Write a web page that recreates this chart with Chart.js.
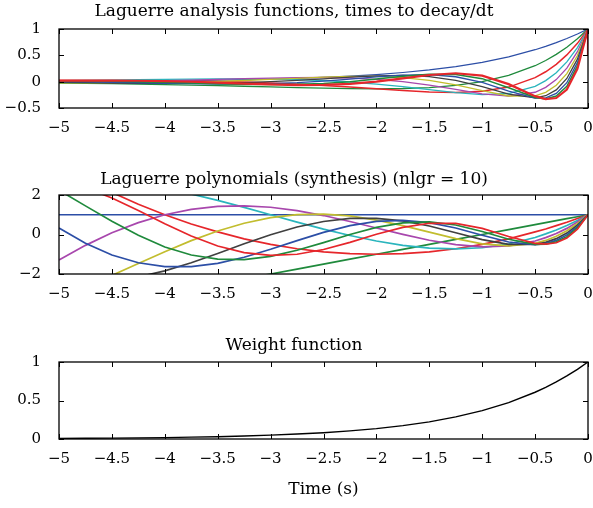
<!DOCTYPE html>
<html>
<head>
<meta charset="utf-8">
<script src="https://cdn.jsdelivr.net/npm/chart.js@4.4.0/dist/chart.umd.min.js"></script>
<style>
  body { margin: 0; background: #fff; }
  .plot { position: absolute; left: 0; width: 593px; }
</style>
</head>
<body>
<div class="plot" style="top:0px;height:148px"><canvas id="c1"></canvas></div>
<div class="plot" style="top:166px;height:148px"><canvas id="c2"></canvas></div>
<div class="plot" style="top:333px;height:171px"><canvas id="c3"></canvas></div>
<script>
// time samples (s)
var T = [-5, -4.75, -4.5, -4.25, -4, -3.75, -3.5, -3.25, -3, -2.75, -2.5, -2.25, -2, -1.75, -1.5, -1.25, -1, -0.75, -0.5, -0.4, -0.3, -0.2, -0.1, 0];

// top: analysis functions
var A0 = [0.007, 0.009, 0.011, 0.014, 0.018, 0.024, 0.030, 0.039, 0.050, 0.064, 0.082, 0.105, 0.135, 0.174, 0.223, 0.287, 0.368, 0.472, 0.607, 0.670, 0.741, 0.819, 0.905, 1];
var A1 = [-0.027, -0.033, -0.039, -0.046, -0.055, -0.065, -0.076, -0.087, -0.100, -0.112, -0.123, -0.132, -0.135, -0.130, -0.112, -0.072, 0, 0.118, 0.303, 0.402, 0.519, 0.655, 0.814, 1];
var A2 = [0.023, 0.024, 0.024, 0.022, 0.018, 0.012, 0.004, -0.008, -0.025, -0.046, -0.072, -0.102, -0.135, -0.169, -0.195, -0.206, -0.184, -0.103, 0.076, 0.188, 0.330, 0.508, 0.728, 1];
var A3 = [0.018, 0.024, 0.030, 0.036, 0.043, 0.048, 0.052, 0.053, 0.050, 0.040, 0.022, -0.006, -0.045, -0.096, -0.153, -0.210, -0.245, -0.225, -0.088, 0.020, 0.171, 0.376, 0.647, 1];
var A4 = [-0.009, -0.005, 0.001, 0.009, 0.018, 0.030, 0.043, 0.056, 0.068, 0.077, 0.079, 0.070, 0.045, 0.001, -0.064, -0.147, -0.230, -0.274, -0.201, -0.108, 0.039, 0.258, 0.569, 1];
var A5 = [-0.021, -0.023, -0.023, -0.021, -0.016, -0.007, 0.005, 0.022, 0.042, 0.064, 0.085, 0.099, 0.099, 0.078, 0.026, -0.060, -0.172, -0.272, -0.270, -0.202, -0.069, 0.153, 0.496, 1];
var A6 = [-0.014, -0.020, -0.026, -0.031, -0.034, -0.034, -0.029, -0.018, -0.001, 0.024, 0.054, 0.086, 0.111, 0.119, 0.095, 0.025, -0.095, -0.237, -0.306, -0.267, -0.156, 0.061, 0.427, 1];
var A7 = [0.002, -0.004, -0.012, -0.021, -0.030, -0.038, -0.044, -0.044, -0.037, -0.020, 0.009, 0.047, 0.090, 0.125, 0.134, 0.093, -0.015, -0.181, -0.314, -0.307, -0.223, -0.020, 0.361, 1];
var A8 = [0.015, 0.013, 0.007, -0.001, -0.011, -0.024, -0.038, -0.049, -0.055, -0.051, -0.034, 0.000, 0.049, 0.102, 0.142, 0.138, 0.057, -0.115, -0.302, -0.327, -0.274, -0.090, 0.299, 1];
var A9 = [0.018, 0.021, 0.021, 0.017, 0.010, -0.002, -0.018, -0.036, -0.053, -0.064, -0.062, -0.042, 0.001, 0.063, 0.127, 0.160, 0.114, -0.047, -0.275, -0.330, -0.310, -0.151, 0.241, 1];
var A9_END = [0.5]; // last sample drops back at t = 0

// middle: Laguerre polynomials
var L0 = [1, 1, 1, 1, 1, 1, 1, 1, 1, 1, 1, 1, 1, 1, 1, 1, 1, 1, 1, 1, 1, 1, 1, 1];
var L1 = [-4, -3.75, -3.5, -3.25, -3, -2.75, -2.5, -2.25, -2, -1.75, -1.5, -1.25, -1, -0.75, -0.5, -0.25, 0, 0.25, 0.5, 0.6, 0.7, 0.8, 0.9, 1];
var L2 = [3.5, 2.78, 2.13, 1.53, 1, 0.53, 0.13, -0.22, -0.5, -0.72, -0.88, -0.97, -1, -0.97, -0.88, -0.72, -0.5, -0.22, 0.13, 0.28, 0.45, 0.62, 0.81, 1];
var L3 = [2.67, 2.73, 2.69, 2.55, 2.33, 2.05, 1.73, 1.37, 1, 0.63, 0.27, -0.05, -0.33, -0.55, -0.69, -0.73, -0.67, -0.48, -0.15, 0.03, 0.23, 0.46, 0.71, 1];
var L4 = [-1.29, -0.55, 0.09, 0.60, 1, 1.27, 1.42, 1.45, 1.38, 1.21, 0.96, 0.66, 0.33, 0.01, -0.29, -0.51, -0.63, -0.58, -0.33, -0.16, 0.05, 0.31, 0.63, 1];
var L5 = [-3.17, -2.65, -2.07, -1.47, -0.87, -0.31, 0.18, 0.57, 0.85, 1.01, 1.03, 0.94, 0.73, 0.45, 0.12, -0.21, -0.47, -0.58, -0.45, -0.30, -0.09, 0.19, 0.55, 1];
var L6 = [-2.09, -2.31, -2.32, -2.15, -1.84, -1.43, -0.96, -0.47, -0.01, 0.38, 0.66, 0.82, 0.82, 0.69, 0.43, 0.09, -0.26, -0.50, -0.50, -0.40, -0.21, 0.07, 0.47, 1];
var L7 = [0.33, -0.44, -1.04, -1.43, -1.63, -1.63, -1.46, -1.15, -0.75, -0.31, 0.11, 0.45, 0.66, 0.72, 0.60, 0.33, -0.04, -0.38, -0.52, -0.46, -0.30, -0.02, 0.40, 1];
var L8 = [2.24, 1.45, 0.67, -0.04, -0.63, -1.04, -1.25, -1.27, -1.11, -0.80, -0.41, 0.00, 0.36, 0.59, 0.64, 0.48, 0.15, -0.24, -0.50, -0.49, -0.37, -0.11, 0.33, 1];
var L9 = [2.69, 2.37, 1.85, 1.21, 0.54, -0.08, -0.58, -0.92, -1.06, -1.00, -0.76, -0.40, 0.01, 0.36, 0.57, 0.56, 0.31, -0.10, -0.45, -0.49, -0.42, -0.18, 0.27, 1];

// bottom: weight
var W = [0.007, 0.009, 0.011, 0.014, 0.018, 0.024, 0.030, 0.039, 0.050, 0.064, 0.082, 0.105, 0.135, 0.174, 0.223, 0.287, 0.368, 0.472, 0.607, 0.670, 0.741, 0.819, 0.905, 1];

var COLORS = ['#2c4ea6', '#1f8a3c', '#e6262b', '#2ab5bd', '#a847ad', '#c2bd2e', '#404040', '#2c4ea6', '#1f8a3c', '#e6262b'];

var FONT = { family: 'DejaVu Serif', size: 15 };
var TITLE_FONT = { family: 'DejaVu Serif', size: 17, weight: 'normal' };

function pts(ys) {
    return T.map(function(t, i) { return { x: t, y: ys[i] }; });
}

function fmt(v) {
    return v < 0 ? '\u2212' + Math.abs(v) : String(v);
}

// matlab style box with inward ticks
var boxTicks = {
    id: 'boxTicks',
    afterDatasetsDraw: function(chart) {
        var ctx = chart.ctx, a = chart.chartArea, x = chart.scales.x, y = chart.scales.y;
        ctx.save();
        ctx.strokeStyle = '#000';
        ctx.lineWidth = 1;
        ctx.beginPath();
        x.ticks.forEach(function(t) {
            var px = Math.round(x.getPixelForValue(t.value)) + 0.5;
            ctx.moveTo(px, a.bottom); ctx.lineTo(px, a.bottom - 5);
            ctx.moveTo(px, a.top); ctx.lineTo(px, a.top + 5);
        });
        y.ticks.forEach(function(t) {
            var py = Math.round(y.getPixelForValue(t.value)) + 0.5;
            ctx.moveTo(a.left, py); ctx.lineTo(a.left + 5, py);
            ctx.moveTo(a.right, py); ctx.lineTo(a.right - 5, py);
        });
        ctx.stroke();
        ctx.lineWidth = 1.3;
        ctx.strokeRect(a.left, a.top, a.right - a.left, a.bottom - a.top);
        ctx.restore();
    }
};

// titlePad: [top, bottom] so that title box + padding = 29px
function makeChart(id, title, titlePad, datasets, ymin, ymax, ystep, xTitle) {
    var xHeight = xTitle ? 65 : 40;
    return new Chart(document.getElementById(id), {
        type: 'line',
        data: { datasets: datasets },
        plugins: [boxTicks],
        options: {
            responsive: true,
            maintainAspectRatio: false,
            animation: false,
            layout: { padding: { left: 0, right: 5, top: 0, bottom: 0 } },
            plugins: {
                legend: { display: false },
                tooltip: { enabled: false },
                title: {
                    display: true,
                    text: title,
                    color: '#000',
                    font: TITLE_FONT,
                    padding: { top: titlePad[0], bottom: titlePad[1] }
                }
            },
            elements: { point: { radius: 0 }, line: { tension: 0 } },
            scales: {
                x: {
                    type: 'linear',
                    min: -5, max: 0,
                    grid: { display: false },
                    border: { display: false },
                    ticks: { stepSize: 0.5, color: '#000', font: FONT, padding: 3, maxRotation: 0, callback: fmt },
                    title: { display: !!xTitle, text: xTitle || '', color: '#000', font: TITLE_FONT, padding: { top: 4, bottom: 4 } },
                    afterFit: function(s) {
                        s.height = xHeight;
                        s.paddingLeft = 0;
                        s.paddingRight = 0;
                    }
                },
                y: {
                    min: ymin, max: ymax,
                    grid: { display: false },
                    border: { display: false },
                    ticks: { stepSize: ystep, color: '#000', font: FONT, padding: 10, callback: fmt },
                    afterFit: function(s) { s.width = 59; }
                }
            }
        }
    });
}

function series(list, widths) {
    return list.map(function(ys, n) {
        return {
            data: pts(ys),
            borderColor: COLORS[n],
            borderWidth: widths ? widths[n] : 1.7,
            fill: false,
            clip: 0,
            order: -n
        };
    });
}

var top_sets = series([A0, A1, A2, A3, A4, A5, A6, A7, A8, A9], [1.2, 1.3, 1.5, 1.3, 1.3, 1.3, 1.3, 1.3, 1.5, 2.2]);
top_sets[9].data = top_sets[9].data.concat([{ x: 0, y: A9_END[0] }]);

makeChart('c1', 'Laguerre analysis functions, times to decay/dt', [1, 7.6], top_sets, -0.5, 1, 0.5);
makeChart('c2', 'Laguerre polynomials (synthesis) (nlgr = 10)', [3.5, 5.1], series([L0, L1, L2, L3, L4, L5, L6, L7, L8, L9]), -2, 2, 2);
makeChart('c3', 'Weight function', [2.5, 6.1], [{ data: pts(W), borderColor: '#000', borderWidth: 1.4, fill: false, clip: 0 }], 0, 1, 0.5, 'Time (s)');
</script>
</body>
</html>
